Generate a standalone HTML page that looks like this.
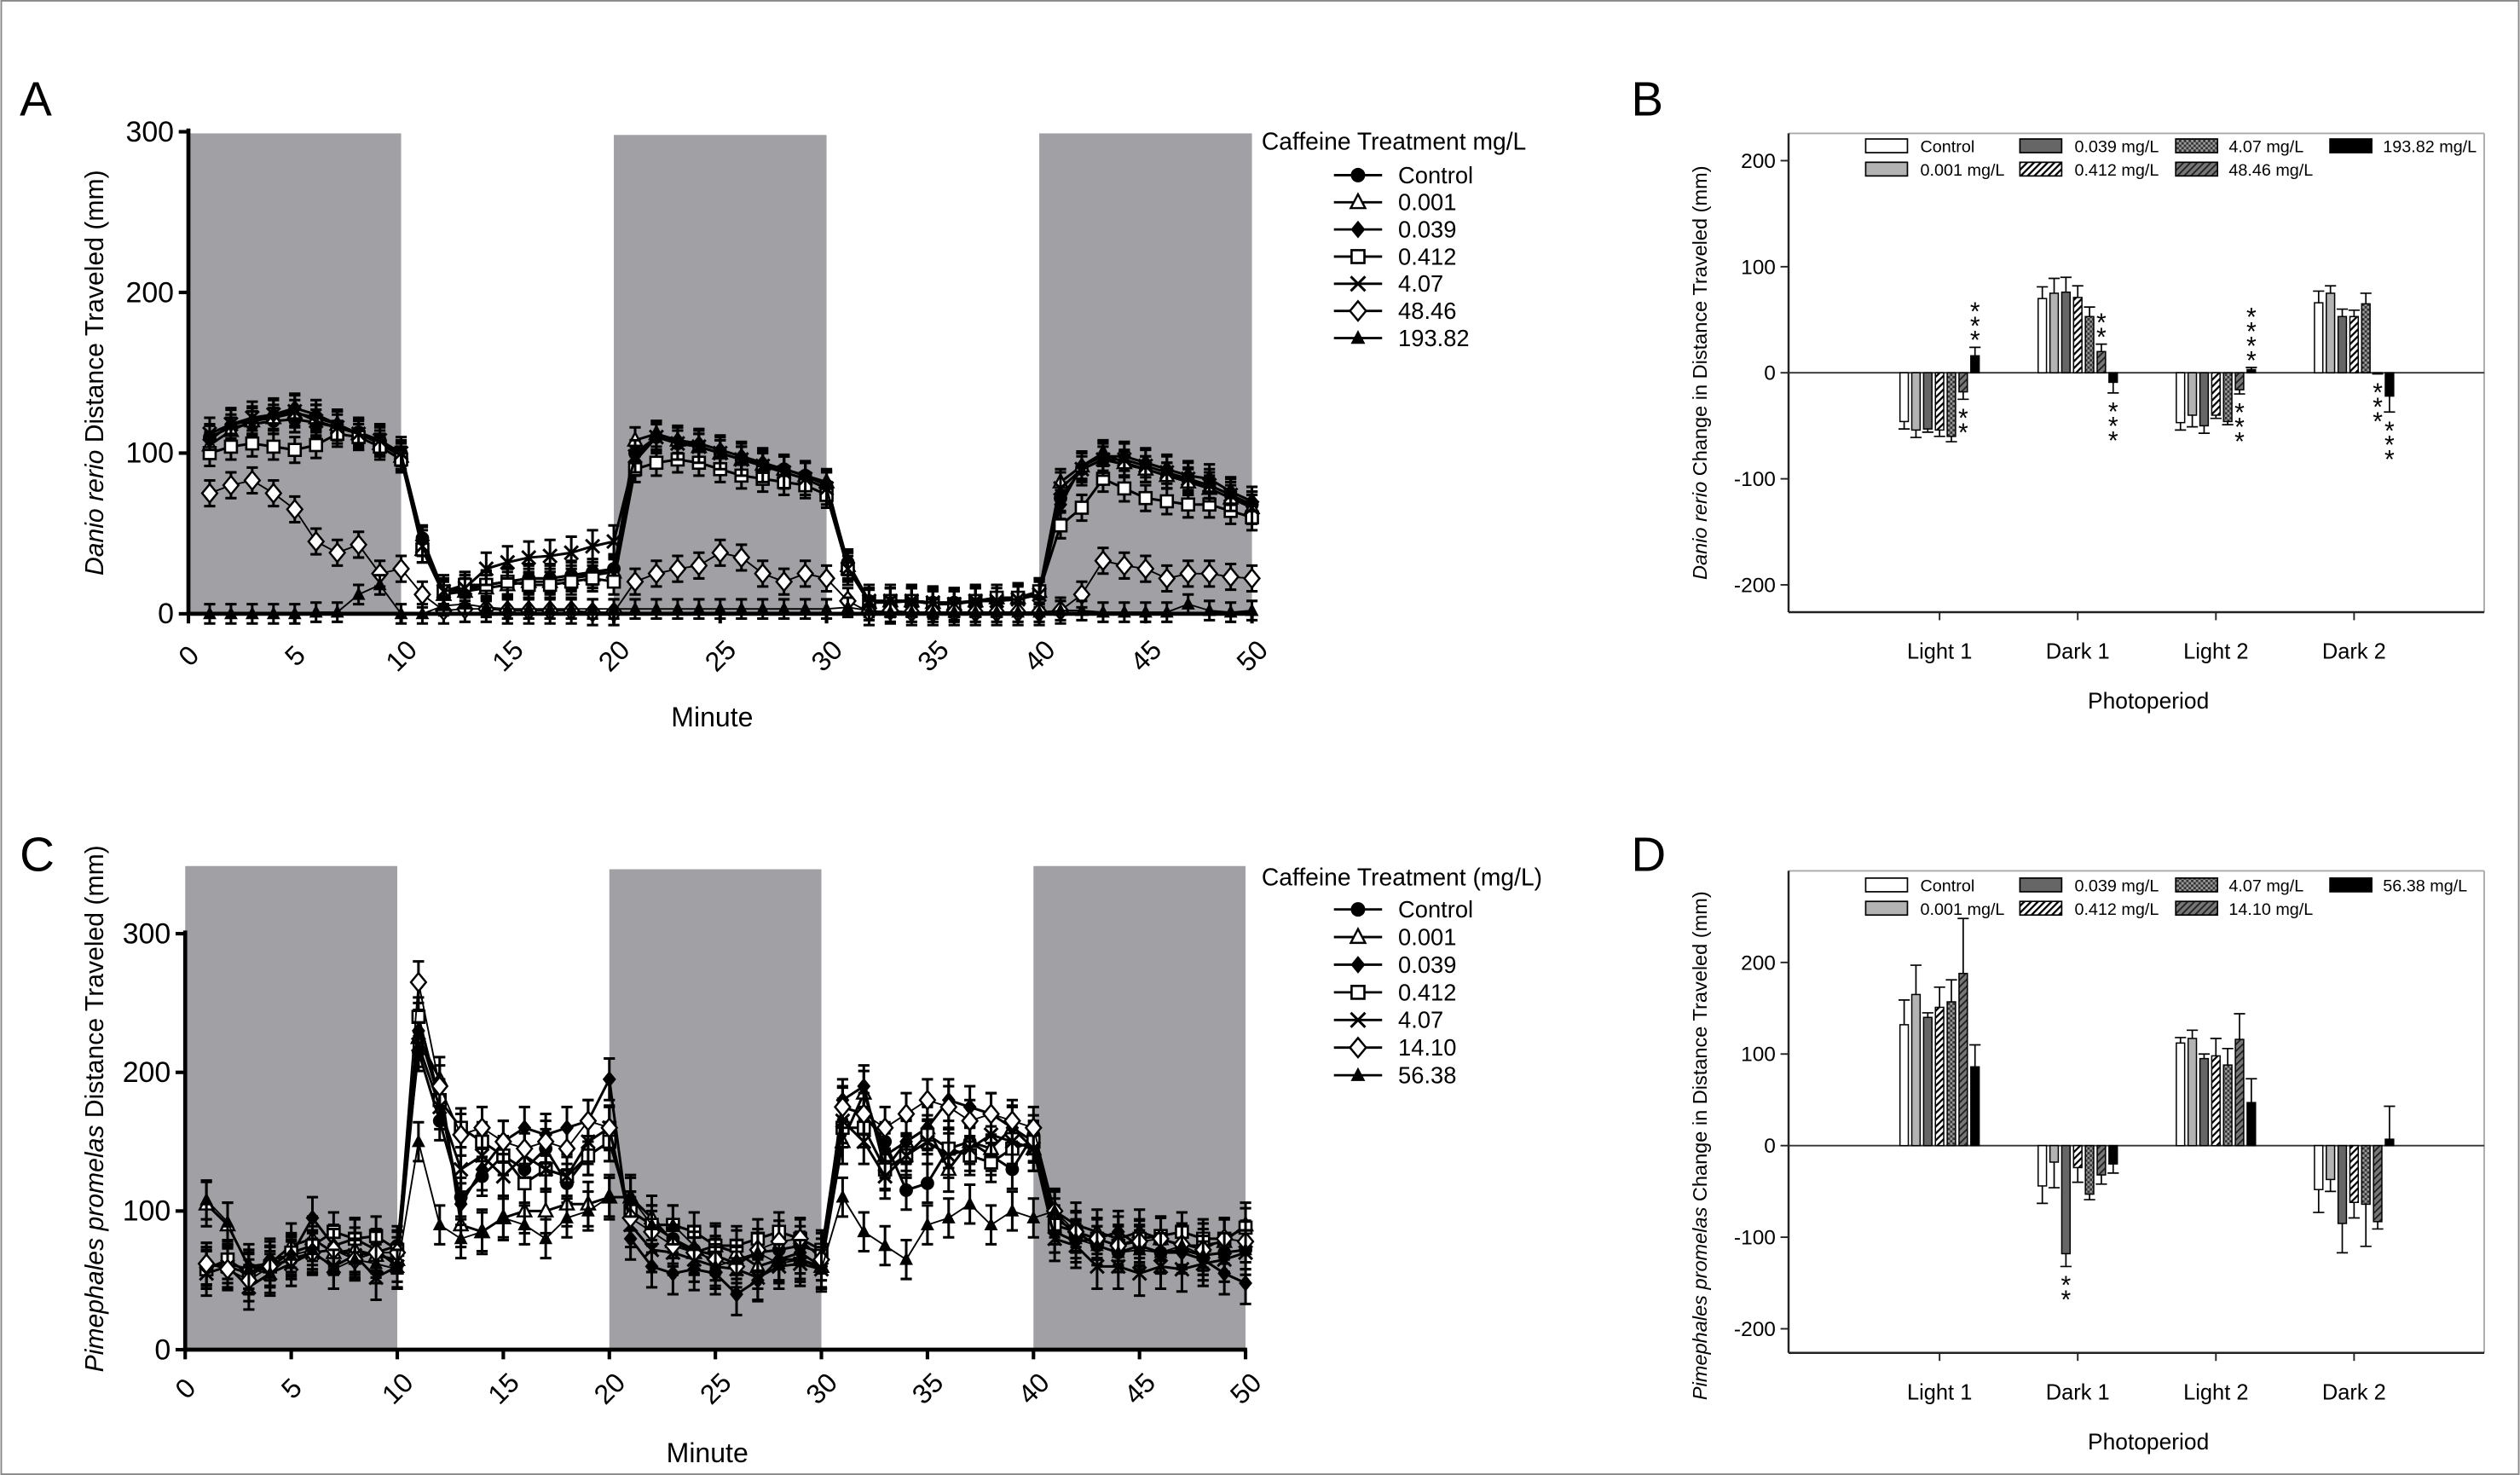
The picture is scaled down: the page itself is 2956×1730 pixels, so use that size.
<!DOCTYPE html>
<html><head><meta charset="utf-8"><style>
html,body{margin:0;padding:0;background:#fff;}
svg{display:block;font-family:"Liberation Sans",sans-serif;}
</style></head>
<body>
<svg id="fig" width="2956" height="1730" viewBox="0 0 1568 918" xmlns="http://www.w3.org/2000/svg">
<defs>
<pattern id="hatchWhite" patternUnits="userSpaceOnUse" width="3" height="3" patternTransform="rotate(45)"><rect width="3" height="3" fill="#fff"/><rect width="1.2" height="3" fill="#000"/></pattern>
<pattern id="hatchDark" patternUnits="userSpaceOnUse" width="3" height="3" patternTransform="rotate(45)"><rect width="3" height="3" fill="#777"/><rect width="1" height="3" fill="#222"/></pattern>
<pattern id="cross" patternUnits="userSpaceOnUse" width="3" height="3"><rect width="3" height="3" fill="#999"/><rect width="1.5" height="1.5" fill="#333"/><rect x="1.5" y="1.5" width="1.5" height="1.5" fill="#333"/></pattern>
</defs>
<rect x="0.5" y="0.5" width="1567" height="917" fill="none" stroke="#888" stroke-width="1"/>
<g id="root"></g>
</svg>
<script>
// ---------- Panel A data (Danio rerio) ----------
const minutes = Array.from({length:50},(_,i)=>i+1);
const seriesNamesA = ["Control","0.001","0.039","0.412","4.07","48.46","193.82"];
const ctrlA = [110,116,118,120,121,119,116,113,108,100, 47,14,16,18,20,22,22,24,26,28, 100,110,106,104,100,96,92,90,86,80, 32,8,8,8,7,7,8,8,9,12, 72,90,96,93,90,86,83,80,74,68];
const t001A = [105,114,120,122,125,122,118,112,106,98, 40,12,14,16,18,20,20,22,24,26, 108,112,108,104,100,96,93,90,86,82, 30,7,8,8,7,6,8,10,10,14, 82,92,100,94,90,86,82,78,72,66];
const d039A = [108,118,120,124,128,124,118,112,108,98, 45,12,15,18,20,22,22,24,25,28, 95,110,108,106,102,98,94,90,86,80, 30,7,7,8,7,7,8,9,10,12, 68,92,98,98,94,90,86,84,76,70];
const s412A = [100,104,106,104,102,105,112,110,104,96, 40,14,18,18,20,18,18,20,22,20, 90,94,96,94,90,86,84,82,80,74, 28,7,8,8,6,6,8,10,10,14, 55,66,84,78,72,70,68,68,64,60];
const x407A = [112,118,122,124,126,120,116,112,108,100, 42,14,16,28,32,35,36,38,42,45, 98,110,106,104,100,96,92,88,84,78, 28,8,8,8,7,6,8,8,9,12, 78,90,96,96,92,88,84,80,74,66];
const o4846A = [75,80,83,75,65,45,38,43,25,28, 12,2,3,3,2,2,2,2,1,1, 20,25,28,30,38,35,25,20,25,22, 8,1,2,1,1,1,1,1,1,1, 2,12,33,30,28,22,25,25,23,22];
const t19382A = [0,0,0,0,0,1,1,12,18,0, 0,5,6,4,3,3,3,3,3,3, 3,3,3,3,3,3,3,3,3,3, 4,2,1,1,1,1,1,1,1,1, 2,2,1,1,1,1,6,2,1,2];
const semA = [8,8,9,8,10,8,6];
const yTicksA = [0,100,200,300];
const xTicks = [0,5,10,15,20,25,30,35,40,45,50];
const darkPeriods = [[0,10],[20,30],[40,50]];

// ---------- Panel C data (Pimephales promelas) ----------
const seriesNamesC = ["Control","0.001","0.039","0.412","4.07","14.10","56.38"];
const ctrlC = [60,62,58,60,65,70,72,68,70,75, 215,165,110,125,140,130,145,120,140,150, 100,90,80,72,68,62,70,72,75,70, 175,170,150,115,120,145,150,140,130,155, 95,85,75,70,75,70,72,68,70,72];
const t001C = [105,90,60,62,75,80,70,72,68,65, 225,195,90,85,95,100,100,105,105,110, 110,95,78,70,75,70,60,65,65,60, 150,185,140,150,160,130,150,145,160,145, 100,90,85,80,85,80,75,75,78,90];
const d039C = [62,60,55,65,68,95,75,80,72,60, 230,180,105,130,150,160,155,160,165,195, 80,60,55,58,55,40,50,65,70,60, 180,190,130,150,160,180,175,170,160,150, 85,78,80,85,75,70,70,65,55,48];
const s412C = [58,65,55,60,70,75,85,80,82,72, 240,180,160,150,140,120,130,125,140,150, 100,90,90,85,75,75,80,85,80,72, 160,160,130,140,155,145,140,135,145,150, 90,85,80,75,80,82,85,80,80,88];
const x407C = [55,60,45,55,62,70,60,68,52,60, 220,175,130,140,125,140,130,125,150,160, 90,72,70,65,60,58,52,60,62,58, 165,150,125,140,150,140,145,155,150,145, 80,75,60,60,55,60,58,62,65,70];
const o1410C = [62,58,50,60,66,70,72,65,70,70, 265,190,155,160,150,145,150,145,165,160, 95,85,75,70,65,60,72,78,80,65, 175,170,160,170,180,175,165,170,165,160, 100,85,80,75,78,80,76,72,80,78];
const t5638C = [108,92,58,55,68,72,58,65,62,58, 150,90,80,85,95,90,80,95,100,110, 110,90,90,75,60,65,70,62,65,58, 110,85,75,65,90,95,105,90,100,95, 100,80,75,70,72,70,75,68,70,72];
const semC = [14,16,15,14,16,15,14];
const yTicksC = [0,100,200,300];

// ---------- Panel B / D bar data ----------
const periods = ["Light 1","Dark 1","Light 2","Dark 2"];
const barLegendB = ["Control","0.001 mg/L","0.039 mg/L","0.412 mg/L","4.07 mg/L","48.46 mg/L","193.82 mg/L"];
const barLegendD = ["Control","0.001 mg/L","0.039 mg/L","0.412 mg/L","4.07 mg/L","14.10 mg/L","56.38 mg/L"];
const meanB = [[-46,-54,-53,-54,-60,-18,16],[70,75,76,71,53,20,-9],[-47,-40,-50,-40,-46,-16,3],[66,75,53,53,65,-1,-22]];
const errB  = [[-53,-61,-56,-60,-65,-25,24],[81,89,90,82,62,27,-19],[-54,-51,-57,-43,-49,-20,5],[77,82,60,59,75,-1,-37]];
const meanD = [[132,165,140,151,157,188,86],[-44,-18,-118,-24,-53,-32,-20],[112,117,95,98,88,116,47],[-48,-37,-85,-62,-64,-83,7]];
const errD  = [[159,197,145,173,181,248,110],[-63,-46,-132,-40,-59,-42,-30],[118,126,100,117,106,144,73],[-73,-50,-117,-79,-110,-91,43]];
const barTicks = [-200,-100,0,100,200];
// significance: [period, series, count, side]
const sigB = [[0,5,2,"below"],[0,6,3,"above"],[1,5,2,"above"],[1,6,3,"below"],[2,5,3,"below"],[2,6,4,"above"],[3,5,3,"below"],[3,6,3,"below"]];
const sigD = [[1,2,2,"below"]];

const NS = "http://www.w3.org/2000/svg";
const root = document.getElementById("root");
function el(tag, attrs, parent){ const e=document.createElementNS(NS,tag); for(const k in attrs) e.setAttribute(k,attrs[k]); (parent||root).appendChild(e); return e; }
function txt(s, attrs, parent){ const e=el("text",attrs,parent); e.textContent=s; return e; }

function marker(g, type, x, y, s){
  let m;
  if(type==="circle") m=el("circle",{cx:x,cy:y,r:s,fill:"#000"},g);
  else if(type==="otri") m=el("polygon",{points:`${x},${y-s-0.5} ${x-s},${y+s*0.8} ${x+s},${y+s*0.8}`,fill:"#fff",stroke:"#000","stroke-width":1.3},g);
  else if(type==="ftri") m=el("polygon",{points:`${x},${y-s-0.5} ${x-s},${y+s*0.8} ${x+s},${y+s*0.8}`,fill:"#000"},g);
  else if(type==="fdia") m=el("polygon",{points:`${x},${y-s-1} ${x+s},${y} ${x},${y+s+1} ${x-s},${y}`,fill:"#000"},g);
  else if(type==="odia") m=el("polygon",{points:`${x},${y-s-1.5} ${x+s+0.5},${y} ${x},${y+s+1.5} ${x-s-0.5},${y}`,fill:"#fff",stroke:"#000","stroke-width":1.3},g);
  else if(type==="osq") m=el("rect",{x:x-s+0.5,y:y-s+0.5,width:2*s-1,height:2*s-1,fill:"#fff",stroke:"#000","stroke-width":1.4},g);
  else { m=el("path",{d:`M${x-s},${y-s}L${x+s},${y+s}M${x-s},${y+s}L${x+s},${y-s}`,stroke:"#000","stroke-width":1.6},g); }
  return m;
}
const markerTypes = ["circle","otri","fdia","osq","x","odia","ftri"];

function linePanel(cfg){
  const {x0,x1,y0,yPer,shadeTop,series,sem,names,yTicks,ytitle1,ytitle2,ytitleY,minuteY,xLabY,legendX,legendY,legendTitle,legendGap,legendFirst,prefix} = cfg;
  const X = m => x0 + (x1-x0)*m/50;
  const Y = v => y0 - v*yPer;
  const g = el("g",{});
  
  
  darkPeriods.forEach((p,i)=>{
    const r = el("rect",{x:X(p[0]),y:shadeTop[i],width:X(p[1])-X(p[0]),height:y0-shadeTop[i],fill:"#a1a0a5"},g);
    
    
  });
  series.forEach((vals,si)=>{
    const sg = el("g",{},g);
    
    
    el("polyline",{points:vals.map((v,i)=>X(minutes[i])+","+Y(v)).join(" "),fill:"none",stroke:"#000","stroke-width":si===5||si===6?1:1.6},sg);
    vals.forEach((v,i)=>{
      const x=X(minutes[i]);
      const e=sem[si]*yPer;
      el("path",{d:`M${x},${Y(v)-e}V${Y(v)+e}M${x-3.5},${Y(v)-e}H${x+3.5}M${x-3.5},${Y(v)+e}H${x+3.5}`,stroke:"#000","stroke-width":1.6},sg);
    });
    vals.forEach((v,i)=>{
      const m=marker(sg,markerTypes[si],X(minutes[i]),Y(v),4.2);
      
      
    });
  });
  const ax = el("g",{},g);
  
  
  el("line",{x1:x0,y1:Y(yTicks[yTicks.length-1])-2,x2:x0,y2:y0,stroke:"#000","stroke-width":2.5},ax);
  el("line",{x1:x0,y1:y0,x2:x1+1,y2:y0,stroke:"#000","stroke-width":2.5},ax);
  yTicks.forEach(t=>{
    el("line",{x1:x0-6,y1:Y(t),x2:x0,y2:Y(t),stroke:"#000","stroke-width":2.2},ax);
    const l=txt(String(t),{x:x0-9,y:Y(t)+6,"font-size":18,"text-anchor":"end"},ax);
    
    
  });
  xTicks.forEach(t=>{
    el("line",{x1:X(t),y1:y0,x2:X(t),y2:y0+6,stroke:"#000","stroke-width":2.2},ax);
    const l=txt(String(t),{x:X(t),y:xLabY,"font-size":17,"text-anchor":"middle",transform:`rotate(-45 ${X(t)} ${xLabY-6})`},ax);
    
    
  });
  const xt=txt("Minute",{x:(x0+x1)/2-5,y:minuteY,"font-size":17,"text-anchor":"middle"},g);
  
  
  const yt=el("text",{x:64,y:ytitleY,"font-size":16,"text-anchor":"middle",transform:`rotate(-90 64 ${ytitleY})`},g);
  
  
  const ts1=el("tspan",{"font-style":"italic"},yt); ts1.textContent=ytitle1;
  const ts2=el("tspan",{},yt); ts2.textContent=ytitle2;
  const lg = el("g",{},g);
  
  
  txt(legendTitle,{x:legendX,y:legendY,"font-size":15},lg);
  names.forEach((n,i)=>{
    const yy = legendY+legendFirst+i*legendGap;
    const eg=el("g",{},lg);
    
    
    el("line",{x1:legendX+45,y1:yy-5,x2:legendX+75,y2:yy-5,stroke:"#000","stroke-width":1.5},eg);
    marker(eg,markerTypes[i],legendX+60,yy-5,4.5);
    txt(n,{x:legendX+85,y:yy,"font-size":14.5},eg);
  });
}

linePanel({x0:117,x1:779,y0:382,yPer:1.0,shadeTop:[83,84,83],series:[ctrlA,t001A,d039A,s412A,x407A,o4846A,t19382A],sem:semA,names:seriesNamesA,yTicks:yTicksA,ytitle1:"Danio rerio",ytitle2:" Distance Traveled (mm)",ytitleY:232,minuteY:452,xLabY:414,legendX:785,legendY:93,legendTitle:"Caffeine Treatment mg/L",legendGap:16.9,legendFirst:21,prefix:"panel-a"});
linePanel({x0:115,x1:775,y0:840,yPer:0.863,shadeTop:[539,541,539],series:[ctrlC,t001C,d039C,s412C,x407C,o1410C,t5638C],sem:semC,names:seriesNamesC,yTicks:yTicksC,ytitle1:"Pimephales promelas",ytitle2:" Distance Traveled (mm)",ytitleY:690,minuteY:910,xLabY:870,legendX:785,legendY:551,legendTitle:"Caffeine Treatment (mg/L)",legendGap:17.2,legendFirst:20,prefix:"panel-c"});

const fills = ["#fff","#b3b3b3","#666","url(#hatchWhite)","url(#cross)","url(#hatchDark)","#000"];
const catX = [1207,1293,1379,1465];

function barPanel(cfg){
  const {top,bottom,y0,per100,means,errs,legend,sig,ytitle1,ytitleY,catY,photoY,legY,prefix} = cfg;
  const Y = v => y0 - v*per100/100;
  const g = el("g",{});
  
  
  el("line",{x1:1113,y1:top,x2:1546,y2:top,stroke:"#aaa","stroke-width":1},g);
  el("line",{x1:1546,y1:top,x2:1546,y2:bottom,stroke:"#aaa","stroke-width":1},g);
  el("line",{x1:1113,y1:top,x2:1113,y2:bottom,stroke:"#222","stroke-width":1.3},g);
  el("line",{x1:1113,y1:bottom,x2:1546,y2:bottom,stroke:"#222","stroke-width":1.3},g);
  el("line",{x1:1113,y1:y0,x2:1546,y2:y0,stroke:"#333","stroke-width":1},g);
  barTicks.forEach(t=>{
    el("line",{x1:1108,y1:Y(t),x2:1113,y2:Y(t),stroke:"#222","stroke-width":1},g);
    const l=txt(String(t),{x:1105,y:Y(t)+4.5,"font-size":13,"text-anchor":"end"},g);
    
    
  });
  periods.forEach((p,ci)=>{
    el("line",{x1:catX[ci],y1:bottom,x2:catX[ci],y2:bottom+5,stroke:"#222","stroke-width":1},g);
    const l=txt(p,{x:catX[ci],y:catY,"font-size":13.5,"text-anchor":"middle"},g);
    
    
    means[ci].forEach((v,si)=>{
      const cx = catX[ci]+(si-3)*7.35;
      const e = errs[ci][si];
      el("path",{d:`M${cx},${Y(v)}V${Y(e)}M${cx-3.5},${Y(e)}H${cx+3.5}`,stroke:"#000","stroke-width":0.9},g);
      const b=el("rect",{x:cx-2.6,y:Math.min(Y(v),y0),width:5.2,height:Math.max(Math.abs(Y(v)-y0),0.5),fill:fills[si],stroke:"#000","stroke-width":0.8},g);
      
      
    });
  });
  sig.forEach(s=>{
    const [ci,si,n,side]=s;
    const cx = catX[ci]+(si-3)*7.35;
    const e = errs[ci][si];
    for(let k=0;k<n;k++){
      const yy = side==="above" ? Y(Math.max(e,0))-5-k*9 : Y(Math.min(e,0))+11+k*9;
      const a=txt("*",{x:cx,y:yy+6,"font-size":16,"text-anchor":"middle"},g);
      
      
    }
  });
  const pt=txt("Photoperiod",{x:1337,y:photoY,"font-size":14,"text-anchor":"middle"},g);
  
  
  const yt=el("text",{x:1062,y:ytitleY,"font-size":12.5,"text-anchor":"middle",transform:`rotate(-90 1062 ${ytitleY})`},g);
  
  
  const t1=el("tspan",{"font-style":"italic"},yt); t1.textContent=ytitle1;
  const t2=el("tspan",{},yt); t2.textContent=" Change in Distance Traveled (mm)";
  const cols=[[1161,1195],[1257,1291],[1354,1387],[1450,1483]];
  const order=[[0,0,0],[1,0,1],[2,1,0],[3,1,1],[4,2,0],[5,2,1],[6,3,0]];
  order.forEach(o=>{
    const [si,col,row]=o;
    const yy = legY+row*14.5;
    const lg=el("g",{},g);
    
    
    el("rect",{x:cols[col][0],y:yy-4.5,width:26,height:8.5,fill:fills[si],stroke:"#000","stroke-width":0.9},lg);
    txt(legend[si],{x:cols[col][1],y:yy+3.8,"font-size":10.5},lg);
  });
}
barPanel({top:83,bottom:381,y0:232,per100:66,means:meanB,errs:errB,legend:barLegendB,sig:sigB,ytitle1:"Danio rerio",ytitleY:232,catY:410,photoY:441,legY:91,prefix:"panel-b"});
barPanel({top:542,bottom:842,y0:713,per100:57,means:meanD,errs:errD,legend:barLegendD,sig:sigD,ytitle1:"Pimephales promelas",ytitleY:713,catY:871,photoY:902,legY:551,prefix:"panel-d"});

[["A",12,72],["B",1015,72],["C",12,542],["D",1015,542]].forEach(p=>{
  const l=txt(p[0],{x:p[1],y:p[2],"font-size":30});
  
  
});
</script>
</body></html>
